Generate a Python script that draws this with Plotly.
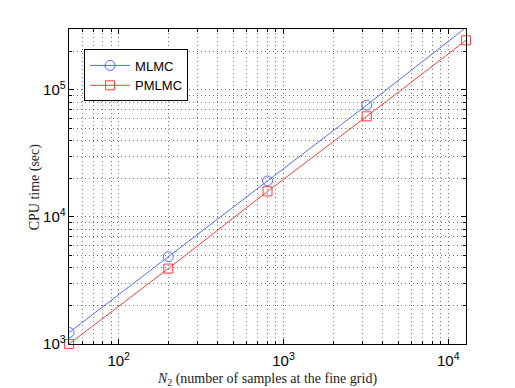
import plotly.graph_objects as go

# data
n2 = [50, 200, 800, 3200, 12800]
mlmc = [1230, 4870, 19200, 76000, 310000]
pmlmc = [1000, 3920, 15900, 62000, 246000]

blue = "#4f6cff"
red = "#ff3b3b"

fig = go.Figure()
fig.add_trace(go.Scatter(
    x=n2, y=mlmc, name="MLMC", mode="lines+markers",
    line=dict(color=blue, width=1),
    marker=dict(symbol="circle-open", size=10, color=blue, line=dict(width=1)),
    cliponaxis=True,
))
fig.add_trace(go.Scatter(
    x=n2, y=pmlmc, name="PMLMC", mode="lines+markers",
    line=dict(color=red, width=1),
    marker=dict(symbol="square-open", size=9, color=red, line=dict(width=1)),
    cliponaxis=False,
))

grid = "rgba(0,0,0,0.55)"
dots = "1px,3px"
axis_common = dict(
    type="log", dtick=1, exponentformat="power", automargin=False,
    showline=True, linecolor="black", linewidth=1, mirror="allticks",
    ticks="inside", ticklen=5, tickcolor="black",
    showgrid=True, gridcolor=grid, griddash=dots, gridwidth=1,
    minor=dict(dtick="D1", showgrid=True, gridcolor=grid, griddash=dots, gridwidth=1,
               ticks="inside", ticklen=3, tickcolor="black"),
    tickfont=dict(family="Liberation Sans, Arial", size=12, color="black"),
    zeroline=False,
)

fig.update_xaxes(
    **axis_common,
    range=[1.6985, 4.1076],
    ticklabelstandoff=4,
    title=dict(text="<i>N</i><sub>2</sub> (number of samples at the fine grid)",
               font=dict(family="Liberation Serif, DejaVu Serif", size=14, color="#222"),
               standoff=6),
)
fig.update_yaxes(**axis_common, range=[2.9995, 5.48])

# y title placed by hand, closer to the axis like the original
fig.add_annotation(
    text="CPU time (sec)", xref="paper", yref="paper",
    x=-0.086, y=0.5, xanchor="center", yanchor="middle", textangle=-90,
    showarrow=False,
    font=dict(family="Liberation Serif, DejaVu Serif", size=14, color="#222"),
)

fig.update_layout(
    width=515, height=388,
    margin=dict(l=69, r=49, t=29, b=44),
    plot_bgcolor="white", paper_bgcolor="white",
    showlegend=True,
    legend=dict(
        x=0.038, y=0.935, xanchor="left", yanchor="top",
        bordercolor="black", borderwidth=1, bgcolor="white",
        font=dict(family="Liberation Sans, Arial", size=13, color="black"),
        itemwidth=40, tracegroupgap=0,
    ),
)

fig.write_html("out.html", config={"displayModeBar": False},
               post_script="document.body.style.margin='0';")
